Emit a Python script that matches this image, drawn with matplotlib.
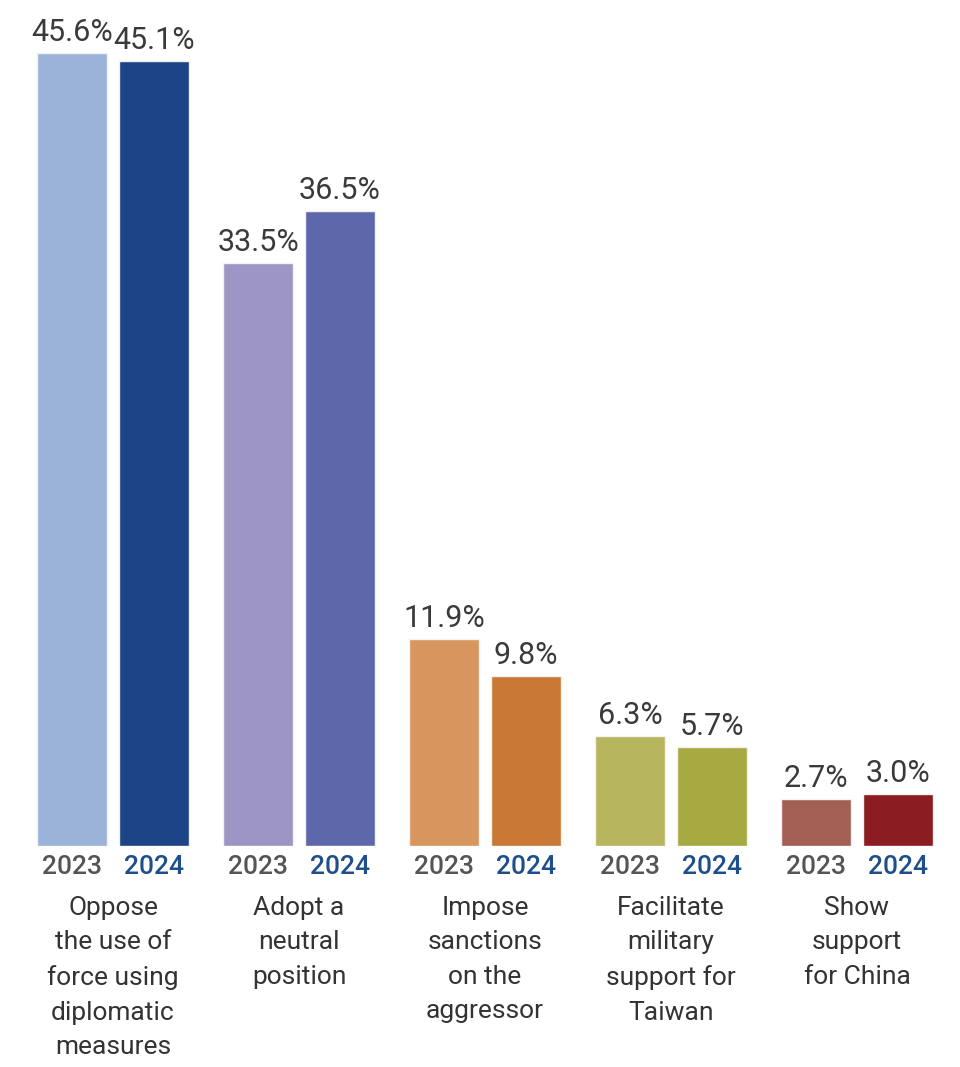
import numpy as np
import matplotlib.pyplot as plt

plt.rcParams['font.family'] = ['Roboto', 'DejaVu Sans']

categories = ["Oppose\nthe use of\nforce using\ndiplomatic\nmeasures",
              "Adopt a\nneutral\nposition",
              "Impose\nsanctions\non the\naggressor",
              "Facilitate\nmilitary\nsupport for\nTaiwan",
              "Show\nsupport\nfor China"]
vals_2023 = [45.6, 33.5, 11.9, 6.3, 2.7]
vals_2024 = [45.1, 36.5, 9.8, 5.7, 3.0]
colors_2023 = ["#9bb3d9", "#9d95c4", "#d8965f", "#b7b65e", "#a45f55"]
colors_2024 = ["#1d4486", "#5e67a9", "#c97935", "#a7a941", "#8a1c22"]
years = ["2023", "2024"]

fig = plt.figure(figsize=(9.6, 10.67), dpi=100)
ax = fig.add_axes([0, 0.207, 1, 0.791])
x = np.arange(len(categories))
w = 0.38
off = 0.22

ax.bar(x - off, vals_2023, w, color=colors_2023, edgecolor="#f2f2f2", linewidth=1)
ax.bar(x + off, vals_2024, w, color=colors_2024, edgecolor="#f2f2f2", linewidth=1)

for i in range(len(categories)):
    ax.text(x[i] - off, vals_2023[i] + 0.35, f"{vals_2023[i]:.1f}%", ha="center", va="bottom",
            fontsize=22, color="#3a3a3a")
    ax.text(x[i] + off, vals_2024[i] + 0.35, f"{vals_2024[i]:.1f}%", ha="center", va="bottom",
            fontsize=22, color="#3a3a3a")
    ax.text(x[i] - off, -1.2, years[0], ha="center", va="center", fontsize=19,
            color="#555555", fontweight="medium")
    ax.text(x[i] + off, -1.2, years[1], ha="center", va="center", fontsize=19,
            color="#1f4e8c", fontweight="medium")
    ax.text(x[i], -2.85, categories[i], ha="center", va="top", fontsize=19,
            color="#333333", linespacing=1.55)

ax.set_xlim(-0.608, 4.554)
ax.set_ylim(0, 48.5)
ax.axis("off")

fig.savefig("out.png", dpi=100)
